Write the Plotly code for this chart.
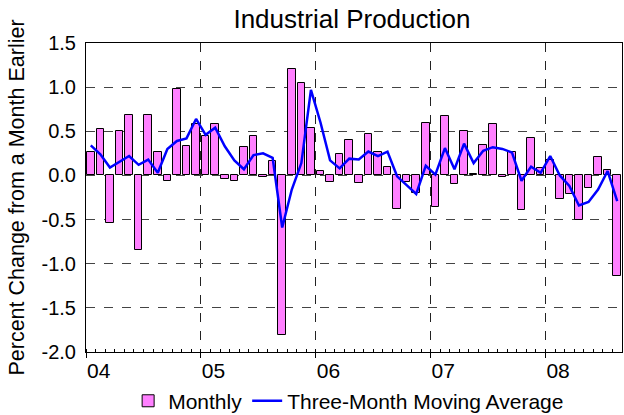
import plotly.graph_objects as go

months = list(range(56))  # Jan 2004 .. Aug 2008
monthly = [
    0.27, 0.53, -0.54, 0.50, 0.69, -0.84, 0.68, 0.26, -0.06, 0.98, 0.33, 0.58,
    0.45, 0.58, -0.04, -0.06, 0.32, 0.45, -0.02, 0.16, -1.81, 1.20, 1.05, 0.54,
    0.05, -0.08, 0.24, 0.40, -0.09, 0.47, 0.26, 0.09, -0.375, -0.08, -0.20, 0.59,
    -0.36, 0.67, -0.10, 0.50, 0.015, 0.35, 0.58, -0.02, 0.26, -0.39, 0.42, 0.08,
    0.17, -0.27, -0.21, -0.51, -0.14, 0.21, 0.06, -1.14,
]
moving_avg = [
    0.34, 0.24, 0.09, 0.16, 0.22, 0.12, 0.18, 0.03, 0.30, 0.39, 0.42, 0.64,
    0.46, 0.54, 0.33, 0.17, 0.07, 0.23, 0.25, 0.20, -0.59, -0.16, 0.14, 0.97,
    0.60, 0.17, 0.08, 0.19, 0.18, 0.27, 0.22, 0.27, -0.01, -0.11, -0.21, 0.11,
    0.01, 0.31, 0.07, 0.36, 0.14, 0.28, 0.32, 0.30, 0.26, -0.06, 0.10, 0.03,
    0.22, 0.00, -0.12, -0.34, -0.30, -0.16, 0.05, -0.29,
]
year_ticks = [0, 12, 24, 36, 48]
year_labels = ["04", "05", "06", "07", "08"]
y_ticks = [-2.0, -1.5, -1.0, -0.5, 0.0, 0.5, 1.0, 1.5]

xc = [m + 0.5 for m in months]
FONT = "Liberation Sans, Arial, sans-serif"

fig = go.Figure()
fig.add_trace(go.Bar(
    x=xc, y=monthly, width=0.8, name="Monthly",
    marker=dict(color="#FF80FF", line=dict(color="black", width=1)),
))
fig.add_trace(go.Scatter(
    x=xc, y=moving_avg, mode="lines", name="Three-Month Moving Average",
    line=dict(color="#0000FF", width=2.5),
))

fig.update_layout(
    width=624, height=415,
    margin=dict(l=86, r=2, t=43, b=63, autoexpand=False),
    paper_bgcolor="white", plot_bgcolor="white",
    font=dict(family=FONT, size=20, color="black"),
    title=dict(text="Industrial Production", x=0.564, xanchor="center",
               y=0.954, yanchor="middle", font=dict(size=26)),
    showlegend=True,
    legend=dict(orientation="h", x=0.49, xanchor="center", y=-0.159, yanchor="middle",
                font=dict(size=21), itemwidth=30, tracegroupgap=0,
                bgcolor="rgba(0,0,0,0)"),
    bargap=0,
)
fig.update_xaxes(
    range=[0, 56], tickvals=year_ticks, ticktext=year_labels,
    ticklabelposition="outside right", tickfont=dict(size=21),
    showgrid=True, gridcolor="#222", griddash="dash", gridwidth=1,
    showline=True, linecolor="black", linewidth=1, mirror=True,
    ticks="outside", ticklen=5, tickcolor="black",
    minor=dict(dtick=1, tick0=0, ticks="inside", ticklen=3, tickcolor="black", showgrid=False),
    zeroline=False,
)
fig.update_yaxes(
    range=[-2.0, 1.5], tickvals=y_ticks, ticktext=[f"{v:.1f}" for v in y_ticks],
    tickfont=dict(size=20), ticklabelstandoff=5,
    title=dict(text="Percent Change from a Month Earlier", standoff=11, font=dict(size=21.5)),
    showgrid=True, gridcolor="#444", griddash="dash", gridwidth=1,
    showline=True, linecolor="black", linewidth=1, mirror=True,
    ticks="", zeroline=False,
)

fig.write_html(
    "out.html",
    config={"displayModeBar": False},
    post_script="document.body.style.margin='0px';document.body.style.overflow='hidden';",
)
